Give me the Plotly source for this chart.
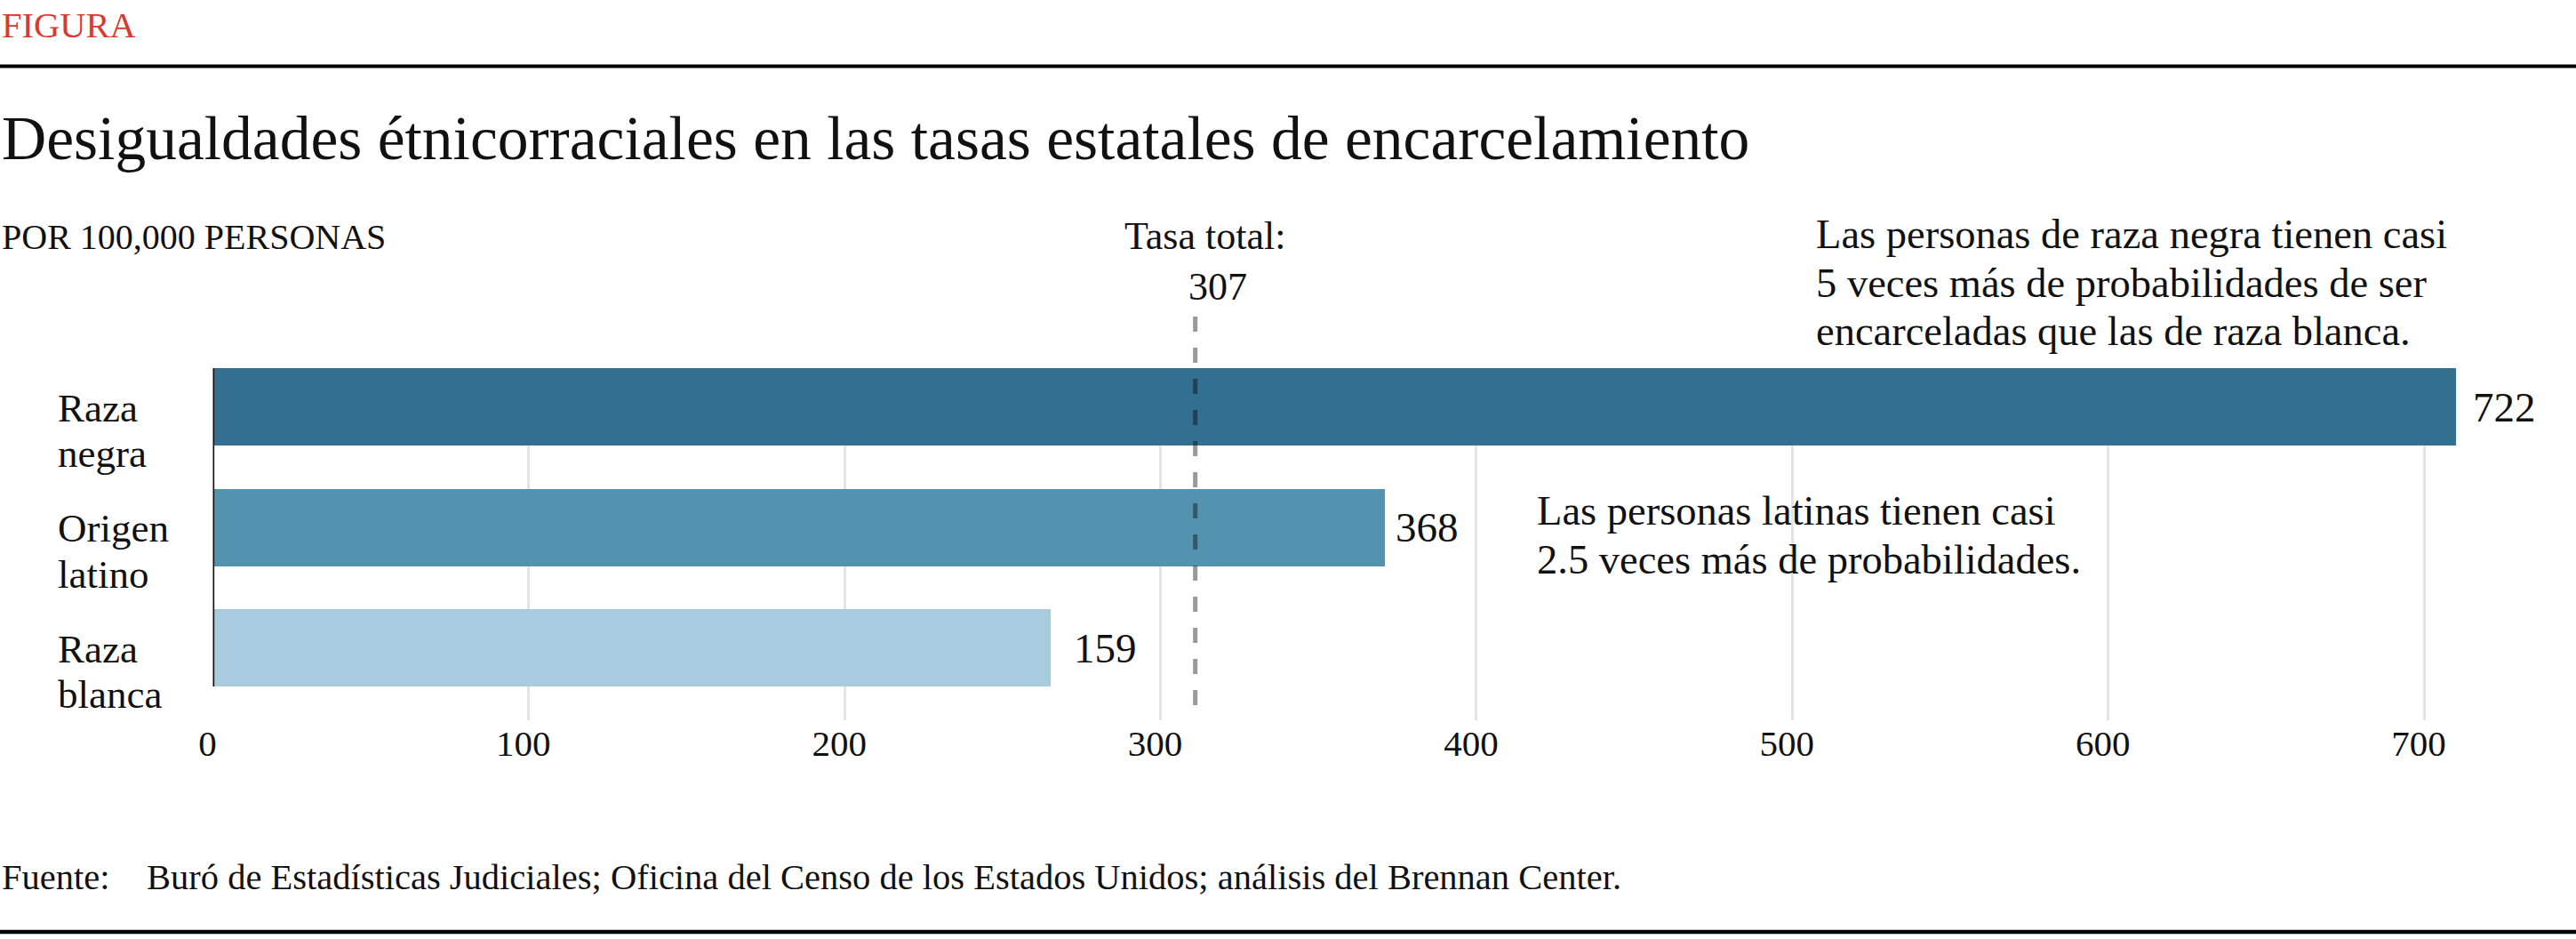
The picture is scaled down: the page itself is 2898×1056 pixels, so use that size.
import plotly.graph_objects as go

# ---- data ----
categories = [["Raza", "negra"], ["Origen", "latino"], ["Raza", "blanca"]]
bar_lengths = [710, 371, 265]          # drawn bar lengths on the axis
value_labels = ["722", "368", "159"]   # printed value labels
bar_colors = ["#326f91", "#5493b0", "#a9cbdf"]
total_line = 311
total_label = ["Tasa total:", "307"]
note_black = ["Las personas de raza negra tienen casi",
              "5 veces más de probabilidades de ser",
              "encarceladas que las de raza blanca."]
note_latino = ["Las personas latinas tienen casi",
               "2.5 veces más de probabilidades."]
tick_vals = [0, 100, 200, 300, 400, 500, 600, 700]
tick_text = ["0", "100", "200", "300", "400", "500", "600", "700"]

# ---- layout helpers ----
W, H = 2898, 1056
FONT = "Liberation Serif, Times New Roman, serif"
INK = "#111111"


def px(x):
    return x / W


def py(y):
    return 1 - y / H


def mid(baseline, fs):
    # annotation vertical middle for a given baseline
    return py(baseline - 0.3375 * fs)


BAR_W = 0.642
label_gap_px = [17, 10, 25]

fig = go.Figure()
fig.add_trace(go.Bar(
    x=bar_lengths, y=list(range(len(categories))), orientation="h",
    marker=dict(color=bar_colors, line=dict(width=0)),
    width=BAR_W, hoverinfo="skip",
))

ann = []
# value labels
for i, (v, t) in enumerate(zip(bar_lengths, value_labels)):
    ann.append(dict(x=v, y=i, xref="x", yref="y", text=t, showarrow=False,
                    xanchor="left", yanchor="middle", xshift=label_gap_px[i],
                    font=dict(size=47, color=INK)))
# category labels (two lines each)
for i, lines in enumerate(categories):
    for j, line in enumerate(lines):
        ann.append(dict(x=px(63), y=i, xref="paper", yref="y", text=line, showarrow=False,
                        xanchor="left", yanchor="middle", yshift=-1 - 51.5 * j,
                        font=dict(size=45, color=INK)))


def text_at(x, baseline, txt, fs, xanchor="left", color=INK):
    ann.append(dict(x=px(x), y=mid(baseline, fs), xref="paper", yref="paper", text=txt,
                    showarrow=False, xanchor=xanchor, yanchor="middle",
                    font=dict(size=fs, color=color)))


text_at(0, 42, "FIGURA", 40.5, color="#d93a2f")
text_at(0, 179, "Desigualdades étnicorraciales en las tasas estatales de encarcelamiento", 69.5)
text_at(0, 280, "POR 100,000 PERSONAS", 40)
text_at(1355, 280, total_label[0], 44, xanchor="center")
text_at(1370, 337, total_label[1], 44, xanchor="center")
for k, line in enumerate(note_black):
    text_at(2041, [279, 334, 388][k], line, 46.5)
for k, line in enumerate(note_latino):
    text_at(1727, [590, 645][k], line, 46.5)
text_at(0, 1000, "Fuente:", 40.5)
text_at(163, 1000, "Buró de Estadísticas Judiciales; Oficina del Censo de los Estados Unidos; análisis del Brennan Center.", 40.5)

shapes = [
    dict(type="line", xref="paper", yref="paper", x0=0, x1=1, y0=py(74.5), y1=py(74.5),
         line=dict(color="#000", width=4)),
    dict(type="line", xref="paper", yref="paper", x0=0, x1=1, y0=py(1048), y1=py(1048),
         line=dict(color="#000", width=4.5)),
    dict(type="line", xref="x", yref="y", x0=0, x1=0, y0=-BAR_W / 2,
         y1=len(categories) - 1 + BAR_W / 2, line=dict(color=INK, width=3.3)),
    dict(type="line", xref="x", yref="paper", x0=total_line, x1=total_line, y0=py(356), y1=py(810),
         line=dict(color="rgba(0,0,0,0.40)", width=5, dash="17px,18px"), layer="above"),
]

fig.update_layout(
    width=W, height=H, margin=dict(l=0, r=0, t=0, b=0, pad=0),
    paper_bgcolor="white", plot_bgcolor="white", showlegend=False,
    font=dict(family=FONT, color=INK),
    annotations=ann, shapes=shapes, bargap=0,
    xaxis=dict(domain=[px(239.5), 1], range=[0, (W - 239.5) / 3.5536], tickvals=tick_vals,
               ticktext=tick_text, showgrid=True, gridcolor="#e4e4e4", gridwidth=2.5,
               zeroline=False, showline=False, ticks="", ticklabelstandoff=-2,
               ticklabelshift=-6, tickfont=dict(size=41, color=INK), automargin=False,
               fixedrange=True),
    yaxis=dict(domain=[py(810), py(414)], range=[2 + 0.601, -0.321], showticklabels=False,
               showgrid=False, zeroline=False, showline=False, automargin=False,
               fixedrange=True),
)

fig.write_html("out.html", config={"displayModeBar": False},
               post_script="document.body.style.margin='0';document.body.style.overflow='hidden';")
